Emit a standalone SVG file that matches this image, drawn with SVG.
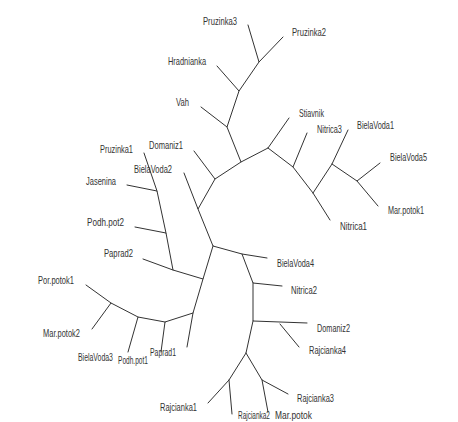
<svg xmlns="http://www.w3.org/2000/svg" width="458" height="422" viewBox="0 0 458 422">
<style>
.e{stroke:#333;stroke-width:1;fill:none;stroke-linecap:round;stroke-linejoin:round}
text{font-family:"Liberation Sans",Arial,sans-serif;font-size:10px;fill:#333}
</style>
<rect width="458" height="422" fill="#fff"/>
<g id="connectors" class="e">
<polyline points="248,25 259,62 283,37"/>
<polyline points="259,62 239,91 217,66"/>
<polyline points="239,91 227,127 201,107"/>
<polyline points="227,127 241,162 268,148 289,118"/>
<polyline points="268,148 293,167 307,133"/>
<polyline points="293,167 313,193 330,220"/>
<polyline points="313,193 332,164 348,130"/>
<polyline points="332,164 357,181 380,163"/>
<polyline points="357,181 378,206"/>
<polyline points="241,162 215,179 194,151"/>
<polyline points="215,179 198,209 184,173"/>
<polyline points="198,209 213,246 242,254 267,258"/>
<polyline points="242,254 253,283 282,286"/>
<polyline points="253,283 253,321 307,323"/>
<polyline points="280,324 299,347"/>
<polyline points="253,321 246,353 229,380 208,403"/>
<polyline points="229,380 232,414"/>
<polyline points="246,353 262,380 288,394"/>
<polyline points="262,380 268,412"/>
<polyline points="213,246 203,279 173,270 143,259"/>
<polyline points="173,270 166,233 135,227"/>
<polyline points="166,233 157,191 127,185"/>
<polyline points="157,191 144,153"/>
<polyline points="203,279 193,313 187,347"/>
<polyline points="193,313 165,322 161,352"/>
<polyline points="165,322 138,317 128,352"/>
<polyline points="138,317 111,303 92,329"/>
<polyline points="111,303 86,285"/>
</g>
<g id="labels">
<g id="n-Pruzinka3"><text transform="translate(203 24.5) scale(0.73 1)" textLength="46.6" lengthAdjust="spacingAndGlyphs">Pruzinka3</text></g>
<g id="n-Pruzinka2"><text transform="translate(292 35.5) scale(0.73 1)" textLength="46.6" lengthAdjust="spacingAndGlyphs">Pruzinka2</text></g>
<g id="n-Hradnianka"><text transform="translate(168 64.5) scale(0.73 1)" textLength="52.1" lengthAdjust="spacingAndGlyphs">Hradnianka</text></g>
<g id="n-Vah"><text transform="translate(176 105.5) scale(0.73 1)" textLength="17.8" lengthAdjust="spacingAndGlyphs">Vah</text></g>
<g id="n-Stiavnik"><text transform="translate(299 116.5) scale(0.73 1)" textLength="34.2" lengthAdjust="spacingAndGlyphs">Stiavnik</text></g>
<g id="n-Nitrica3"><text transform="translate(317 132.5) scale(0.73 1)" textLength="34.2" lengthAdjust="spacingAndGlyphs">Nitrica3</text></g>
<g id="n-BielaVoda1"><text transform="translate(357 128.5) scale(0.73 1)" textLength="50.7" lengthAdjust="spacingAndGlyphs">BielaVoda1</text></g>
<g id="n-BielaVoda5"><text transform="translate(390 160.5) scale(0.73 1)" textLength="50.7" lengthAdjust="spacingAndGlyphs">BielaVoda5</text></g>
<g id="n-Mar.potok1"><text transform="translate(388 213.5) scale(0.73 1)" textLength="49.3" lengthAdjust="spacingAndGlyphs">Mar.potok1</text></g>
<g id="n-Nitrica1"><text transform="translate(340 229.5) scale(0.73 1)" textLength="37" lengthAdjust="spacingAndGlyphs">Nitrica1</text></g>
<g id="n-Domaniz1"><text transform="translate(149 148.5) scale(0.73 1)" textLength="46.6" lengthAdjust="spacingAndGlyphs">Domaniz1</text></g>
<g id="n-Pruzinka1"><text transform="translate(100 152.5) scale(0.73 1)" textLength="45.2" lengthAdjust="spacingAndGlyphs">Pruzinka1</text></g>
<g id="n-BielaVoda2"><text transform="translate(134 172.5) scale(0.73 1)" textLength="52.1" lengthAdjust="spacingAndGlyphs">BielaVoda2</text></g>
<g id="n-Jasenina"><text transform="translate(86 184.5) scale(0.73 1)" textLength="41.1" lengthAdjust="spacingAndGlyphs">Jasenina</text></g>
<g id="n-Podh.pot2"><text transform="translate(87 225.5) scale(0.73 1)" textLength="50.7" lengthAdjust="spacingAndGlyphs">Podh.pot2</text></g>
<g id="n-Paprad2"><text transform="translate(104 256.5) scale(0.73 1)" textLength="39.7" lengthAdjust="spacingAndGlyphs">Paprad2</text></g>
<g id="n-BielaVoda4"><text transform="translate(277 266.5) scale(0.73 1)" textLength="50.7" lengthAdjust="spacingAndGlyphs">BielaVoda4</text></g>
<g id="n-Nitrica2"><text transform="translate(291 293.5) scale(0.73 1)" textLength="35.6" lengthAdjust="spacingAndGlyphs">Nitrica2</text></g>
<g id="n-Domaniz2"><text transform="translate(317 331.5) scale(0.73 1)" textLength="45.2" lengthAdjust="spacingAndGlyphs">Domaniz2</text></g>
<g id="n-Rajcianka4"><text transform="translate(309 353.5) scale(0.73 1)" textLength="50.7" lengthAdjust="spacingAndGlyphs">Rajcianka4</text></g>
<g id="n-Por.potok1"><text transform="translate(38 283.5) scale(0.73 1)" textLength="49.3" lengthAdjust="spacingAndGlyphs">Por.potok1</text></g>
<g id="n-Mar.potok2"><text transform="translate(43 336.5) scale(0.73 1)" textLength="50.7" lengthAdjust="spacingAndGlyphs">Mar.potok2</text></g>
<g id="n-BielaVoda3"><text transform="translate(78 360.5) scale(0.73 1)" textLength="47.9" lengthAdjust="spacingAndGlyphs">BielaVoda3</text></g>
<g id="n-Podh.pot1"><text transform="translate(118 363.5) scale(0.73 1)" textLength="41.1" lengthAdjust="spacingAndGlyphs">Podh.pot1</text></g>
<g id="n-Paprad1"><text transform="translate(150 355.5) scale(0.73 1)" textLength="35.6" lengthAdjust="spacingAndGlyphs">Paprad1</text></g>
<g id="n-Rajcianka3"><text transform="translate(297 401.5) scale(0.73 1)" textLength="50.7" lengthAdjust="spacingAndGlyphs">Rajcianka3</text></g>
<g id="n-Rajcianka1"><text transform="translate(160 410.5) scale(0.73 1)" textLength="50.7" lengthAdjust="spacingAndGlyphs">Rajcianka1</text></g>
<g id="n-Rajcianka2"><text transform="translate(238 419) scale(0.73 1)" textLength="43.8" lengthAdjust="spacingAndGlyphs">Rajcianka2</text></g>
<g id="n-Mar.potok"><text transform="translate(275 419) scale(0.73 1)" textLength="50.7" lengthAdjust="spacingAndGlyphs">Mar.potok</text></g>
</g>
</svg>
